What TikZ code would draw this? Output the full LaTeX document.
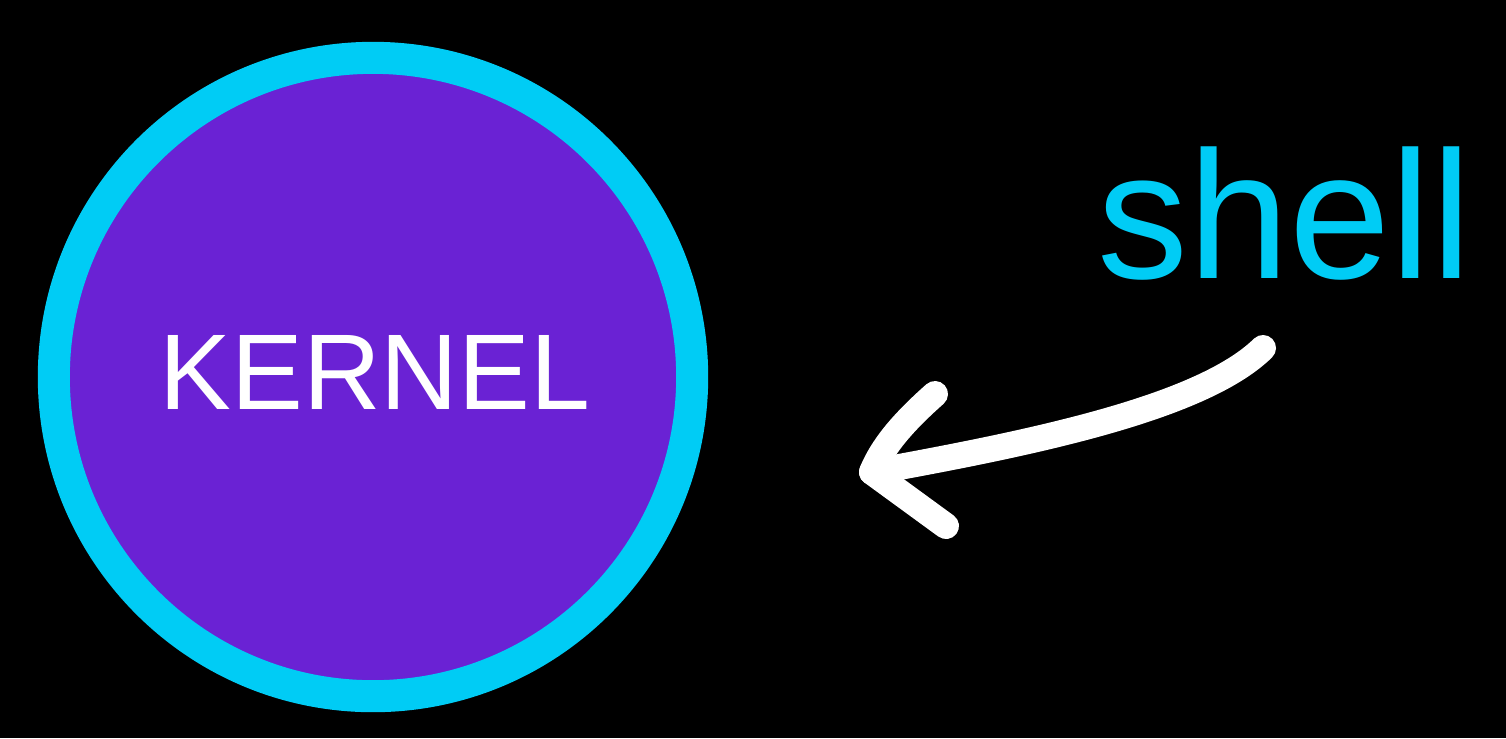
\documentclass[tikz,border=0pt]{standalone}
\usepackage{fontspec}
\setmainfont{Liberation Sans}
\definecolor{shellcyan}{HTML}{00CCF5}
\definecolor{kernelpurple}{HTML}{6A22D4}
\tikzset{
  kernelring/.style={circle,fill=kernelpurple,draw=shellcyan,line width=0.32cm,
    minimum size=6.38cm,inner sep=0pt},
  kerneltext/.style={text=white,inner sep=0pt,font=\fontsize{30.6}{31}\selectfont},
  shelltext/.style={text=shellcyan,inner sep=0pt,font=\fontsize{51.7}{52}\selectfont},
  handarrow/.style={white,line width=0.26cm,line cap=round,line join=round}
}
\begin{document}
\begin{tikzpicture}[x=0.01cm,y=-0.01cm]
      \fill[black] (0,0) rectangle (1506,738) ;
      \useasboundingbox (0,0) rectangle (1506,738) ;
      \node[kernelring] (kernel) at (373,377) {} ;
      \node[kerneltext] (kernellabel) at (375,372) {KERNEL} ;
      \node[shelltext,anchor=base west] (shell) at (1097,278) {shell} ;
      % hand drawn arrow from the label towards the kernel
      \coordinate (tail) at (1263,348) ;
      \coordinate (tip) at (872,472) ;
      \coordinate (headup) at (935,394) ;
      \coordinate (headdown) at (946,526) ;
      \draw[handarrow] (tail) .. controls (1200,410) and (1020,445) .. (tip) ;
      \draw[handarrow] (headup) .. controls (900,425) and (882,448) .. (tip) %
      -- (headdown) ;
    \end{tikzpicture}
\end{document}
